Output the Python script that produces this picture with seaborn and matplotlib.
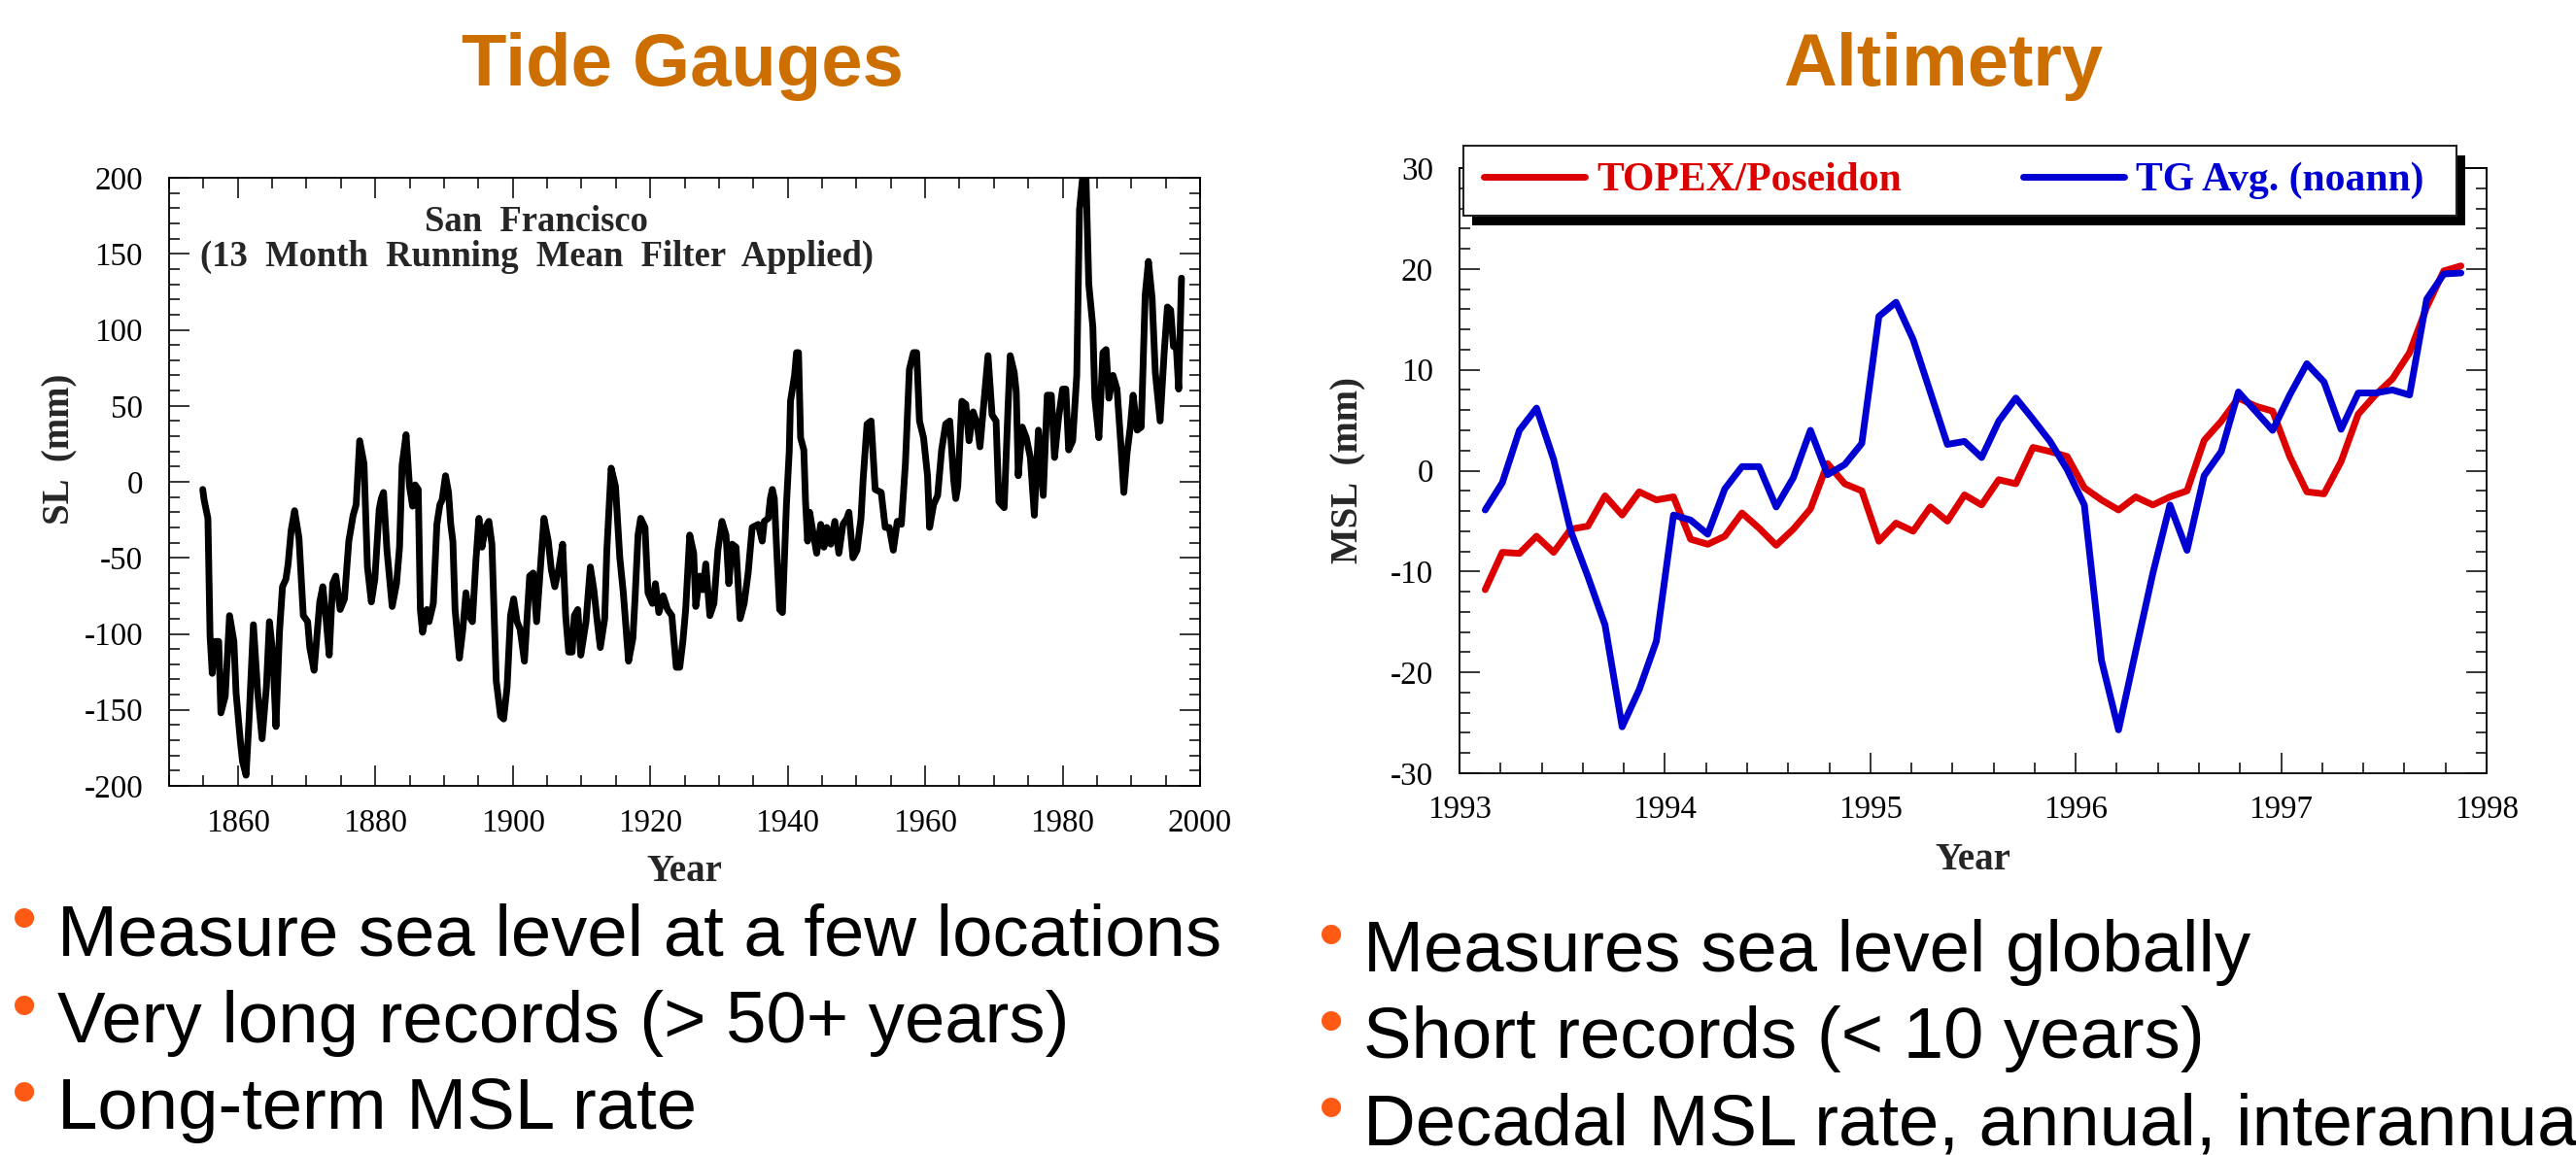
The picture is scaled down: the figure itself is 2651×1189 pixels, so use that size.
import numpy as np
import matplotlib
matplotlib.use("Agg")
import matplotlib.pyplot as plt
import seaborn as sns
from matplotlib.patches import Rectangle
from matplotlib.ticker import MultipleLocator, FormatStrFormatter

# ---------------- data: San Francisco tide gauge (13-month running mean) ----------------
tg_year = [1854.9, 1855.1, 1855.65, 1855.96, 1856.28, 1856.59, 1857.22, 1857.54, 1858.17, 1858.8,
           1859.43, 1859.75, 1860.38, 1860.69, 1861.2, 1861.64, 1862.27, 1862.9, 1863.53, 1864.16,
           1864.6, 1865.1, 1865.55, 1866.06, 1866.5, 1867.0, 1867.32, 1867.76, 1868.26, 1868.9,
           1869.53, 1870.16, 1870.47, 1871.1, 1871.92, 1872.37, 1872.8, 1873.3, 1873.8, 1874.26,
           1874.89, 1875.52, 1876.15, 1876.78, 1877.22, 1877.73, 1878.36, 1878.86, 1879.43, 1879.94,
           1880.57, 1880.88, 1881.2, 1881.7, 1882.46, 1883.09, 1883.53, 1883.9, 1884.48, 1884.98,
           1885.43, 1885.8, 1886.25, 1886.56, 1886.88, 1887.5, 1887.82, 1888.45, 1888.96, 1889.4,
           1889.72, 1890.22, 1890.66, 1890.98, 1891.29, 1891.61, 1892.24, 1892.74, 1893.19, 1893.63,
           1894.13, 1894.64, 1895.08, 1895.52, 1896.03, 1896.53, 1896.97, 1897.6, 1898.23, 1898.68,
           1899.18, 1899.68, 1900.13, 1900.63, 1901.07, 1901.7, 1902.46, 1902.97, 1903.47, 1903.91,
           1904.54, 1905.17, 1905.62, 1906.12, 1906.75, 1907.26, 1907.7, 1908.14, 1908.64, 1908.96,
           1909.46, 1909.9, 1910.66, 1911.29, 1911.8, 1912.3, 1912.74, 1913.38, 1913.69, 1914.32,
           1914.95, 1915.58, 1916.09, 1916.85, 1917.48, 1917.79, 1918.23, 1918.61, 1919.24, 1919.68,
           1920.32, 1920.76, 1921.26, 1921.89, 1922.52, 1923.15, 1923.79, 1924.3, 1924.75, 1925.16,
           1925.75, 1926.33, 1926.63, 1927.21, 1927.68, 1928.09, 1928.68, 1929.27, 1929.85, 1930.44,
           1931.03, 1931.44, 1931.91, 1932.49, 1933.08, 1933.67, 1934.25, 1934.84, 1935.72, 1936.3,
           1936.6, 1937.18, 1937.48, 1937.77, 1938.06, 1938.48, 1938.83, 1939.24, 1939.53, 1939.82,
           1940.23, 1940.41, 1941.0, 1941.29, 1941.58, 1941.88, 1942.35, 1942.6, 1942.9, 1943.2,
           1943.64, 1944.22, 1944.81, 1945.28, 1945.69, 1946.28, 1946.86, 1947.45, 1948.04, 1948.62,
           1948.91, 1949.5, 1950.09, 1950.67, 1950.97, 1951.55, 1952.14, 1952.73, 1953.61, 1954.19,
           1954.78, 1955.37, 1955.95, 1956.54, 1957.13, 1957.71, 1958.3, 1958.77, 1959.18, 1959.77,
           1960.35, 1960.65, 1961.23, 1961.82, 1962.4, 1962.99, 1963.58, 1964.16, 1964.46, 1964.75,
           1965.34, 1965.92, 1966.39, 1966.98, 1967.57, 1967.98, 1968.56, 1969.15, 1969.74, 1970.32,
           1970.73, 1971.09, 1971.5, 1972.08, 1972.38, 1972.96, 1973.26, 1973.55, 1974.13, 1974.72,
           1975.31, 1975.89, 1976.48, 1977.18, 1977.77, 1978.36, 1978.83, 1979.41, 1980.0, 1980.47,
           1980.88, 1981.47, 1982.06, 1982.46, 1982.93, 1983.4, 1983.81, 1984.4, 1984.69, 1985.28,
           1985.87, 1986.33, 1986.74, 1987.33, 1987.92, 1988.5, 1988.91, 1989.38, 1989.85, 1990.26,
           1990.85, 1991.44, 1992.02, 1992.49, 1993.02, 1993.49, 1994.19, 1994.78, 1995.25, 1995.72,
           1996.13, 1996.54, 1996.89, 1997.3]
tg_sl = [-5, -12, -24, -101, -126, -105, -105, -152, -141, -88,
         -105, -139, -171, -184, -193, -156, -94, -139, -169, -135,
         -92, -114, -161, -99, -69, -64, -54, -32, -19, -37,
         -88, -92, -109, -124, -79, -69, -88, -114, -67, -62,
         -84, -77, -39, -22, -15, 27, 12, -56, -79, -64,
         -18, -11, -7, -45, -82, -67, -43, 11, 31, -3,
         -16, -2, -5, -84, -99, -84, -92, -80, -28, -15,
         -12, 4, -7, -28, -39, -84, -116, -97, -73, -88,
         -92, -52, -24, -43, -30, -26, -41, -131, -154, -156,
         -135, -88, -77, -92, -97, -118, -62, -60, -92, -64,
         -24, -39, -58, -69, -56, -41, -88, -112, -112, -88,
         -84, -114, -92, -56, -71, -92, -109, -90, -45, 9,
         -3, -50, -73, -118, -103, -77, -35, -24, -30, -73,
         -80, -67, -86, -75, -84, -88, -122, -122, -105, -84,
         -35, -47, -82, -62, -71, -54, -88, -80, -45, -26,
         -35, -67, -41, -43, -90, -80, -60, -30, -28, -39,
         -26, -24, -11, -5, -11, -52, -84, -86, -50, -15,
         20, 53, 70, 85, 85, 29, 21, -13, -39, -20,
         -32, -47, -28, -43, -30, -41, -26, -47, -28, -24,
         -20, -50, -45, -24, 1, 38, 40, -5, -7, -30,
         -30, -45, -26, -28, 12, 74, 85, 85, 40, 29,
         4, -30, -15, -9, 21, 38, 40, 1, -11, -3,
         53, 51, 27, 46, 38, 23, 53, 83, 44, 40,
         -13, -15, -17, 51, 83, 72, 59, 4, 36, 29,
         16, -22, 34, -9, 57, 57, 16, 42, 61, 61,
         21, 27, 70, 179, 201, 201, 130, 102, 55, 29,
         85, 87, 55, 70, 61, 23, -7, 19, 36, 57,
         34, 36, 123, 145, 121, 72, 40, 85, 115, 113,
         89, 89, 61, 134]

# ---------------- data: altimetry comparison (monthly, 1993-1998) ----------------
alt_time = list(1993.125 + np.arange(58) / 12.0)
topex = [-11.8, -8.1, -8.2, -6.5, -8.1, -5.8, -5.5, -2.5, -4.4, -2.1,
         -2.9, -2.6, -6.8, -7.3, -6.5, -4.2, -5.7, -7.4, -5.8, -3.8,
         0.7, -1.3, -2.0, -7.0, -5.2, -6.0, -3.6, -5.0, -2.4, -3.4,
         -0.9, -1.3, 2.3, 1.9, 1.4, -1.7, -2.9, -3.9, -2.6, -3.4,
         -2.6, -2.0, 3.0, 4.9, 7.2, 6.4, 5.9, 1.4, -2.1, -2.3,
         0.9, 5.6, 7.5, 9.1, 11.7, 16.2, 19.8, 20.3]
tg_avg = [-3.9, -1.2, 4.0, 6.2, 1.1, -6.0, -10.5, -15.3, -25.4, -21.7,
          -16.9, -4.4, -4.9, -6.3, -1.8, 0.4, 0.4, -3.6, -0.7, 4.0,
          -0.4, 0.6, 2.7, 15.3, 16.7, 13.0, 7.8, 2.6, 2.9, 1.3,
          4.9, 7.2, 5.1, 2.9, 0.1, -3.4, -18.8, -25.7, -17.9, -10.2,
          -3.4, -7.9, -0.5, 1.9, 7.8, 5.9, 4.0, 7.5, 10.6, 8.8,
          4.1, 7.7, 7.7, 8.0, 7.5, 17.0, 19.5, 19.6]
alt_labels = ["TOPEX/Poseidon", "TG Avg. (noann)"]
alt_colors = ["#dc0000", "#0000d2"]

titles = ["Tide Gauges", "Altimetry"]
left_bullets = ["Measure sea level at a few locations",
                "Very long records (> 50+ years)",
                "Long-term MSL rate"]
right_bullets = ["Measures sea level globally",
                 "Short records (< 10 years)",
                 "Decadal MSL rate, annual, interannual"]

# ---------------- style ----------------
sns.set_style("white")
plt.rcParams["font.family"] = ["Liberation Serif", "DejaVu Serif"]
plt.rcParams["axes.unicode_minus"] = False

W, H = 2651, 1189
fig = plt.figure(figsize=(W / 100, H / 100), dpi=100)
fig.patch.set_facecolor("white")


def px_rect(x0, y0, x1, y1):
    return [x0 / W, 1 - y1 / H, (x1 - x0) / W, (y1 - y0) / H]


ax1 = fig.add_axes(px_rect(174, 183, 1235, 809))
ax2 = fig.add_axes(px_rect(1502, 173, 2559, 796))

TICK_FS = 23.8
LABEL_FS = 28


def style_axes(ax, xpad, ypad):
    for s in ax.spines.values():
        s.set_visible(True)
        s.set_linewidth(1.3)
        s.set_color("black")
    ax.tick_params(which="both", direction="in", top=True, right=True,
                   bottom=True, left=True, color="black", width=1.1,
                   labelsize=TICK_FS, labelcolor="black")
    ax.tick_params(which="major", length=15)
    ax.tick_params(which="minor", length=8)
    ax.tick_params(axis="x", which="both", pad=xpad)
    ax.tick_params(axis="y", which="both", pad=ypad)
    ax.set_facecolor("white")
    ax.grid(False)


# ---- left: tide gauge ----
sns.lineplot(x=tg_year, y=tg_sl, ax=ax1, color="black", linewidth=5,
             estimator=None, sort=False)
ax1.set_xlim(1850, 2000)
ax1.set_ylim(-200, 200)
ax1.xaxis.set_major_locator(MultipleLocator(20))
ax1.xaxis.set_minor_locator(MultipleLocator(5))
ax1.yaxis.set_major_locator(MultipleLocator(50))
ax1.yaxis.set_minor_locator(MultipleLocator(10))
ax1.xaxis.set_major_formatter(FormatStrFormatter("%d"))
ax1.yaxis.set_major_formatter(FormatStrFormatter("%d"))
style_axes(ax1, 17, 19.4)
ax1.set_xlabel("Year", fontsize=LABEL_FS, fontweight="bold")
ax1.set_ylabel("SL  (mm)", fontsize=LABEL_FS, fontweight="bold")
ax1.xaxis.set_label_coords(0.5, -0.112)
ax1.yaxis.set_label_coords(-0.0886, 0.554)
ax1.text(0.3563, 0.9121, "San  Francisco", transform=ax1.transAxes,
         ha="center", va="baseline", fontsize=26.4, fontweight="bold")
ax1.text(0.3563, 0.8546, "(13  Month  Running  Mean  Filter  Applied)",
         transform=ax1.transAxes, ha="center", va="baseline",
         fontsize=26.4, fontweight="bold")

# ---- right: altimetry ----
sns.lineplot(x=alt_time, y=topex, ax=ax2, color=alt_colors[0], linewidth=5,
             estimator=None, sort=False)
sns.lineplot(x=alt_time, y=tg_avg, ax=ax2, color=alt_colors[1], linewidth=5,
             estimator=None, sort=False)
ax2.set_xlim(1993, 1998)
ax2.set_ylim(-30, 30)
ax2.xaxis.set_major_locator(MultipleLocator(1))
ax2.xaxis.set_minor_locator(MultipleLocator(0.2))
ax2.yaxis.set_major_locator(MultipleLocator(10))
ax2.yaxis.set_minor_locator(MultipleLocator(2))
ax2.xaxis.set_major_formatter(FormatStrFormatter("%d"))
ax2.yaxis.set_major_formatter(FormatStrFormatter("%d"))
style_axes(ax2, 16, 19.4)
ax2.set_xlabel("Year", fontsize=LABEL_FS, fontweight="bold")
ax2.set_ylabel("MSL  (mm)", fontsize=LABEL_FS, fontweight="bold")
ax2.xaxis.set_label_coords(0.5, -0.114)
ax2.yaxis.set_label_coords(-0.0908, 0.5)

# legend box with drop shadow
ax2.add_patch(Rectangle((0.0123, 0.9053), 0.96689, 0.11557, transform=ax2.transAxes,
                        facecolor="black", edgecolor="black", lw=0,
                        clip_on=False, zorder=4.5))
ax2.add_patch(Rectangle((0.00378, 0.92135), 0.96689, 0.11557, transform=ax2.transAxes,
                        facecolor="white", edgecolor="#222222", lw=1.5,
                        clip_on=False, zorder=4.6))
handles = ax2.get_lines()[:2]
leg = ax2.legend(handles=handles, labels=alt_labels, loc="center left",
                 bbox_to_anchor=(0.02365, 0.9791), ncol=2, frameon=False,
                 borderpad=0, borderaxespad=0, handlelength=2.5,
                 handletextpad=0.3, columnspacing=2.98,
                 prop={"family": "Liberation Serif", "weight": "bold", "size": 30})
leg.set_zorder(5)
for t, c in zip(leg.get_texts(), alt_colors):
    t.set_color(c)

# ---------------- slide texts ----------------
TITLE_COLOR = "#cc6e00"
BULLET_COLOR = "#ff5a14"
fig.text(702 / W, 1 - 88 / H, titles[0], ha="center", va="baseline",
         fontsize=54.7, fontweight="bold", color=TITLE_COLOR, family="Liberation Sans")
fig.text(2000 / W, 1 - 88 / H, titles[1], ha="center", va="baseline",
         fontsize=54.7, fontweight="bold", color=TITLE_COLOR, family="Liberation Sans")

BFS = 53.6
for txt, base in zip(left_bullets, [983, 1073, 1162]):
    fig.text(59 / W, 1 - base / H, txt, ha="left", va="baseline",
             fontsize=BFS, family="Liberation Sans", color="black")
    fig.text(25 / W, 1 - (base - 13) / H, "\u2022", ha="center", va="baseline",
             fontsize=BFS, family="Liberation Sans", color=BULLET_COLOR)
for txt, base in zip(right_bullets, [1000, 1089, 1178]):
    fig.text(1403 / W, 1 - base / H, txt, ha="left", va="baseline",
             fontsize=BFS, family="Liberation Sans", color="black")
    fig.text(1370 / W, 1 - (base - 13) / H, "\u2022", ha="center", va="baseline",
             fontsize=BFS, family="Liberation Sans", color=BULLET_COLOR)

fig.savefig("out.png", dpi=100, facecolor="white")
